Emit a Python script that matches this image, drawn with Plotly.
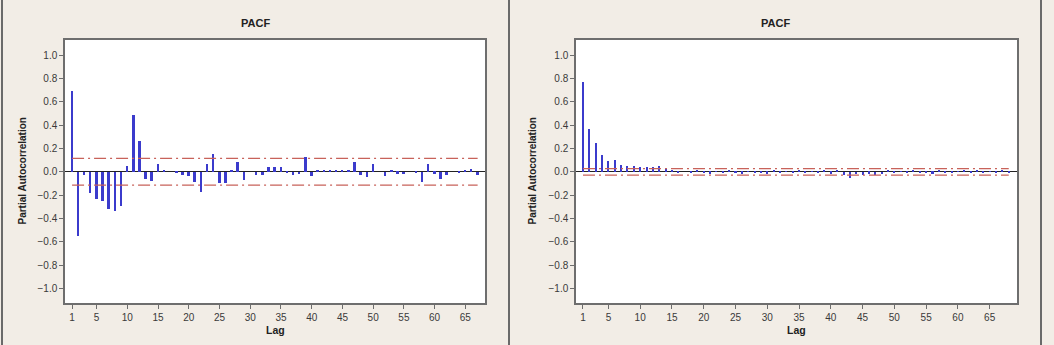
import plotly.graph_objects as go

# ---------------- data ----------------
lags_left = list(range(1, 68))
pacf_left = [0.69, -0.55, -0.03, -0.18, -0.23, -0.25, -0.32, -0.34, -0.29, 0.05,
             0.49, 0.26, -0.06, -0.08, 0.07, 0.01, 0.00, -0.01, -0.03, -0.04,
             -0.09, -0.17, 0.07, 0.15, -0.10, -0.10, 0.01, 0.08, -0.07, 0.00,
             -0.03, -0.03, 0.04, 0.04, 0.04, -0.01, -0.03, -0.02, 0.13, -0.04,
             0.015, 0.01, 0.01, 0.015, 0.01, 0.01, 0.08, -0.03, -0.045, 0.065,
             0.00, -0.035, 0.01, -0.015, -0.02, 0.00, -0.01, -0.09, 0.07, -0.015,
             -0.06, -0.03, 0.00, -0.01, 0.01, 0.02, -0.03]
limit_left = 0.115

lags_right = list(range(1, 69))
pacf_right = [0.77, 0.37, 0.245, 0.14, 0.095, 0.10, 0.055, 0.05, 0.05, 0.045,
              0.04, 0.04, 0.05, 0.02, 0.01, -0.01, 0.00, -0.01, 0.01, -0.01,
              -0.015, 0.005, -0.01, 0.01, -0.01, -0.015, 0.005, -0.01, -0.01, -0.015,
              0.01, -0.01, 0.005, -0.01, 0.01, -0.01, 0.005, -0.01, 0.01, -0.015,
              0.01, -0.03, -0.05, -0.02, -0.025, -0.015, -0.03, -0.02, 0.01, -0.01,
              0.005, -0.01, 0.01, -0.01, -0.005, -0.015, 0.01, -0.01, -0.01, 0.005,
              0.01, -0.01, 0.01, -0.01, 0.005, -0.01, 0.01, -0.005]
limit_right = 0.028

x_ticks = [1, 5, 10, 15, 20, 25, 30, 35, 40, 45, 50, 55, 60, 65]
y_ticks = [-1.0, -0.8, -0.6, -0.4, -0.2, 0.0, 0.2, 0.4, 0.6, 0.8, 1.0]

# ---------------- layout constants ----------------
W, H = 1054, 345
BG = "#f2ede6"
BAR = "#3b3bcc"
RED = "#c8625a"
FONT = "Liberation Sans"

def px_x(p):
    return p / W

def px_y(p):
    return 1 - p / H

fig = go.Figure()

panels = [
    dict(lags=lags_left, vals=pacf_left, lim=limit_left, xa="x", ya="y",
         xdom=[px_x(65), px_x(485)], xr=[-0.15, 68.2], pcx=255, ytx=22),
    dict(lags=lags_right, vals=pacf_right, lim=limit_right, xa="x2", ya="y2",
         xdom=[px_x(576), px_x(1017)], xr=[-0.1, 69.3], pcx=775, ytx=532),
]

for i, p in enumerate(panels):
    fig.add_trace(go.Bar(x=p["lags"], y=p["vals"], width=0.32,
                         marker=dict(color=BAR, line=dict(width=0)),
                         xaxis=p["xa"], yaxis=p["ya"], showlegend=False))
    for s in (1, -1):
        fig.add_trace(go.Scatter(x=[p["lags"][0], p["lags"][-1]],
                                 y=[s * p["lim"], s * p["lim"]],
                                 mode="lines",
                                 line=dict(color=RED, width=1.3, dash="12px,4px,2px,4px"),
                                 xaxis=p["xa"], yaxis=p["ya"], showlegend=False,
                                 hoverinfo="skip"))

axis_common = dict(showline=True, mirror=True, linecolor="#6e6e6e", linewidth=1.5,
                   ticks="outside", ticklen=4, tickcolor="#6e6e6e", tickwidth=1,
                   showgrid=False, tickfont=dict(family=FONT, size=10, color="#3a3a3a"))

ydom = [px_y(303), px_y(40)]
fig.update_layout(
    width=W, height=H, margin=dict(l=0, r=0, t=0, b=0),
    paper_bgcolor=BG, plot_bgcolor="white", bargap=0,
    xaxis=dict(domain=panels[0]["xdom"], range=panels[0]["xr"], anchor="y",
               tickvals=x_ticks, zeroline=False, **axis_common),
    yaxis=dict(domain=ydom, range=[-1.125, 1.13], anchor="x",
               tickvals=y_ticks, tickformat=".1f", zeroline=True,
               zerolinecolor="#222222", zerolinewidth=1, **axis_common),
    xaxis2=dict(domain=panels[1]["xdom"], range=panels[1]["xr"], anchor="y2",
                tickvals=x_ticks, zeroline=False, **axis_common),
    yaxis2=dict(domain=ydom, range=[-1.125, 1.13], anchor="x2",
                tickvals=y_ticks, tickformat=".1f", zeroline=True,
                zerolinecolor="#222222", zerolinewidth=1, **axis_common),
)

annotations = []
shapes = []
for p in panels:
    xc = (p["xdom"][0] + p["xdom"][1]) / 2
    annotations.append(dict(text="<b>PACF</b>", x=px_x(p["pcx"]), y=px_y(23),
                            xref="paper", yref="paper", showarrow=False,
                            xanchor="center", yanchor="middle",
                            font=dict(family=FONT, size=11, color="#222222")))
    annotations.append(dict(text="<b>Lag</b>", x=xc, y=px_y(330),
                            xref="paper", yref="paper", showarrow=False,
                            xanchor="center", yanchor="middle",
                            font=dict(family=FONT, size=10.5, color="#222222")))
    annotations.append(dict(text="<b>Partial Autocorrelation</b>", x=px_x(p["ytx"]),
                            y=(ydom[0] + ydom[1]) / 2, textangle=-90,
                            xref="paper", yref="paper", showarrow=False,
                            xanchor="center", yanchor="middle",
                            font=dict(family=FONT, size=10, color="#222222")))

for xp in (2, 509, 1041):
    shapes.append(dict(type="line", xref="paper", yref="paper",
                       x0=px_x(xp), x1=px_x(xp), y0=0, y1=1,
                       line=dict(color="#6a6a6a", width=2)))

fig.update_layout(annotations=annotations, shapes=shapes)
fig.write_html("out.html")
